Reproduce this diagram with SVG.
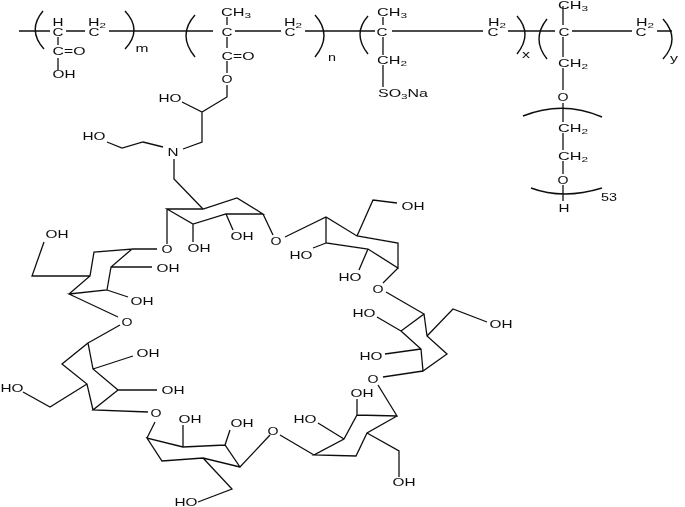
<svg xmlns="http://www.w3.org/2000/svg" width="685" height="507" viewBox="0 0 685 507">
<style>
.b{fill:none;stroke:#111;stroke-width:1.3;stroke-linejoin:miter;stroke-linecap:butt}
.k{fill:none;stroke:#111;stroke-width:1.4}
text{font-family:"Liberation Sans",Arial,sans-serif;font-size:11px;fill:#111;text-anchor:middle}
.s{font-size:8px}
</style>
<defs><filter id="soft" x="0" y="0" width="100%" height="100%"><feGaussianBlur stdDeviation="0.3"/></filter></defs>
<rect width="685" height="507" fill="#fff"/>
<g filter="url(#soft)">
<g id="polymer-bonds">
<path class="b" d="M19 31H50M66 31H85M109 31H213M235 31H281M305 31H375M392 31H483M508 31H555M572 31H632M657 31H672"/>
<path class="b" d="M58 37V45M58 58V70M227 17V25M227 37V48M227 61V73M227 85V97L202 112L182 102M202 112V142L183 149M163 147L143 142L122 148L107 142M174 159V179L203 209"/>
<path class="b" d="M383 17V25M383 37V55M383 65V87M563 6V25M563 37V57M563 68V90M563 103V122M563 133V150M563 161V174M563 185V201"/>
</g>
<g id="brackets">
<path class="k" d="M43 11Q27 30 44 49M125 11Q143 30 125 49M195 15Q177 35 195 57M315 15Q333 35 315 57M368 16Q352 34 368 54M517 16Q533 34 517 54M547 19Q531 39 547 59M663 19Q681 39 663 59M523 116Q563 100 602 117M531 188Q563 200 602 188"/>
</g>
<g id="rings">
<path class="b" d="M167 209L193 224L226 214H263L237 198L203 209ZM167 209V244M193 224V242M226 214L233 230M263 214L273 235"/>
<path class="b" d="M285 237L326 217L357 236L398 243V268L368 249L326 243V217M357 236L373 200L397 203M326 243L313 248M368 249L359 270M398 268L383 283"/>
<path class="b" d="M386 292L424 314L401 331L421 349L423 371L447 354L427 336L424 314M401 331L377 317M421 349L385 354M427 336L453 309L487 322M423 371L383 377"/>
<path class="b" d="M378 385L397 416L357 415L344 439L314 455L356 456L367 433L397 416M357 415V399M344 439L318 423M367 433L399 451V477M314 455L280 435"/>
<path class="b" d="M270 435L240 467L225 445L183 447L147 438L162 461L203 458L240 467M225 445L230 430M183 447V425M203 458L232 489L198 502M147 438L155 422"/>
<path class="b" d="M148 412L93 410L118 390L93 369L88 343L62 364L87 384L93 410M118 390H157M93 369L133 356M87 384L50 407L23 392M88 343L120 325"/>
<path class="b" d="M118 317L69 294L107 290L111 267L132 249L94 252L90 276L69 294M107 290L128 297M111 267H152M90 276H32L44 242M132 249H157"/>
</g>
<g id="polymer-labels">
<text x="58" y="26" textLength="11" lengthAdjust="spacingAndGlyphs">H</text>
<text x="58" y="36" textLength="11" lengthAdjust="spacingAndGlyphs">C</text>
<text x="97" y="26" textLength="18" lengthAdjust="spacingAndGlyphs">H<tspan class="s" dy="2">2</tspan></text>
<text x="94" y="36" textLength="11" lengthAdjust="spacingAndGlyphs">C</text>
<text x="69" y="55" textLength="33" lengthAdjust="spacingAndGlyphs">C=O</text>
<text x="64" y="78" textLength="23" lengthAdjust="spacingAndGlyphs">OH</text>
<text x="142" y="52" textLength="13" lengthAdjust="spacingAndGlyphs">m</text>
<text x="236" y="16" textLength="30" lengthAdjust="spacingAndGlyphs">CH<tspan class="s" dy="2">3</tspan></text>
<text x="227" y="36" textLength="11" lengthAdjust="spacingAndGlyphs">C</text>
<text x="238" y="60" textLength="33" lengthAdjust="spacingAndGlyphs">C=O</text>
<text x="227" y="83" textLength="11" lengthAdjust="spacingAndGlyphs">O</text>
<text x="293" y="26" textLength="18" lengthAdjust="spacingAndGlyphs">H<tspan class="s" dy="2">2</tspan></text>
<text x="290" y="36" textLength="11" lengthAdjust="spacingAndGlyphs">C</text>
<text x="332" y="61" textLength="8" lengthAdjust="spacingAndGlyphs">n</text>
<text x="170" y="102" textLength="23" lengthAdjust="spacingAndGlyphs">HO</text>
<text x="94" y="140" textLength="23" lengthAdjust="spacingAndGlyphs">HO</text>
<text x="173" y="156" textLength="11" lengthAdjust="spacingAndGlyphs">N</text>
<text x="392" y="16" textLength="30" lengthAdjust="spacingAndGlyphs">CH<tspan class="s" dy="2">3</tspan></text>
<text x="382" y="36" textLength="11" lengthAdjust="spacingAndGlyphs">C</text>
<text x="392" y="64" textLength="30" lengthAdjust="spacingAndGlyphs">CH<tspan class="s" dy="2">2</tspan></text>
<text x="403" y="97" textLength="50" lengthAdjust="spacingAndGlyphs">SO<tspan class="s" dy="2">3</tspan><tspan dy="-2">Na</tspan></text>
<text x="497" y="26" textLength="18" lengthAdjust="spacingAndGlyphs">H<tspan class="s" dy="2">2</tspan></text>
<text x="493" y="36" textLength="11" lengthAdjust="spacingAndGlyphs">C</text>
<text x="526" y="58" textLength="8" lengthAdjust="spacingAndGlyphs">x</text>
<text x="573" y="8.5" textLength="30" lengthAdjust="spacingAndGlyphs">CH<tspan class="s" dy="2">3</tspan></text>
<text x="564" y="36" textLength="11" lengthAdjust="spacingAndGlyphs">C</text>
<text x="645" y="26" textLength="18" lengthAdjust="spacingAndGlyphs">H<tspan class="s" dy="2">2</tspan></text>
<text x="641" y="36" textLength="11" lengthAdjust="spacingAndGlyphs">C</text>
<text x="674" y="62" textLength="8" lengthAdjust="spacingAndGlyphs">y</text>
<text x="573" y="67" textLength="30" lengthAdjust="spacingAndGlyphs">CH<tspan class="s" dy="2">2</tspan></text>
<text x="563" y="101" textLength="11" lengthAdjust="spacingAndGlyphs">O</text>
<text x="573" y="132" textLength="30" lengthAdjust="spacingAndGlyphs">CH<tspan class="s" dy="2">2</tspan></text>
<text x="573" y="160" textLength="30" lengthAdjust="spacingAndGlyphs">CH<tspan class="s" dy="2">2</tspan></text>
<text x="563" y="184" textLength="11" lengthAdjust="spacingAndGlyphs">O</text>
<text x="564" y="212" textLength="11" lengthAdjust="spacingAndGlyphs">H</text>
<text x="609" y="201" textLength="16" lengthAdjust="spacingAndGlyphs">53</text>
</g>
<g id="ring-labels">
<text x="167" y="253" textLength="11" lengthAdjust="spacingAndGlyphs">O</text>
<text x="199" y="252" textLength="23" lengthAdjust="spacingAndGlyphs">OH</text>
<text x="242" y="240" textLength="23" lengthAdjust="spacingAndGlyphs">OH</text>
<text x="276" y="245" textLength="11" lengthAdjust="spacingAndGlyphs">O</text>
<text x="413" y="210" textLength="23" lengthAdjust="spacingAndGlyphs">OH</text>
<text x="301" y="259" textLength="23" lengthAdjust="spacingAndGlyphs">HO</text>
<text x="350" y="281" textLength="23" lengthAdjust="spacingAndGlyphs">HO</text>
<text x="378" y="293" textLength="11" lengthAdjust="spacingAndGlyphs">O</text>
<text x="364" y="317" textLength="23" lengthAdjust="spacingAndGlyphs">HO</text>
<text x="371" y="360" textLength="23" lengthAdjust="spacingAndGlyphs">HO</text>
<text x="501" y="328" textLength="23" lengthAdjust="spacingAndGlyphs">OH</text>
<text x="373" y="383" textLength="11" lengthAdjust="spacingAndGlyphs">O</text>
<text x="362" y="397" textLength="23" lengthAdjust="spacingAndGlyphs">OH</text>
<text x="305" y="423" textLength="23" lengthAdjust="spacingAndGlyphs">HO</text>
<text x="404" y="486" textLength="23" lengthAdjust="spacingAndGlyphs">OH</text>
<text x="273" y="435" textLength="11" lengthAdjust="spacingAndGlyphs">O</text>
<text x="242" y="427" textLength="23" lengthAdjust="spacingAndGlyphs">OH</text>
<text x="190" y="423" textLength="23" lengthAdjust="spacingAndGlyphs">OH</text>
<text x="186" y="506" textLength="23" lengthAdjust="spacingAndGlyphs">HO</text>
<text x="156" y="417" textLength="11" lengthAdjust="spacingAndGlyphs">O</text>
<text x="173" y="394" textLength="23" lengthAdjust="spacingAndGlyphs">OH</text>
<text x="148" y="357" textLength="23" lengthAdjust="spacingAndGlyphs">OH</text>
<text x="12" y="392" textLength="23" lengthAdjust="spacingAndGlyphs">HO</text>
<text x="127" y="326" textLength="11" lengthAdjust="spacingAndGlyphs">O</text>
<text x="142" y="305" textLength="23" lengthAdjust="spacingAndGlyphs">OH</text>
<text x="168" y="272" textLength="23" lengthAdjust="spacingAndGlyphs">OH</text>
<text x="57" y="238" textLength="23" lengthAdjust="spacingAndGlyphs">OH</text>
</g>
</g>
</svg>
